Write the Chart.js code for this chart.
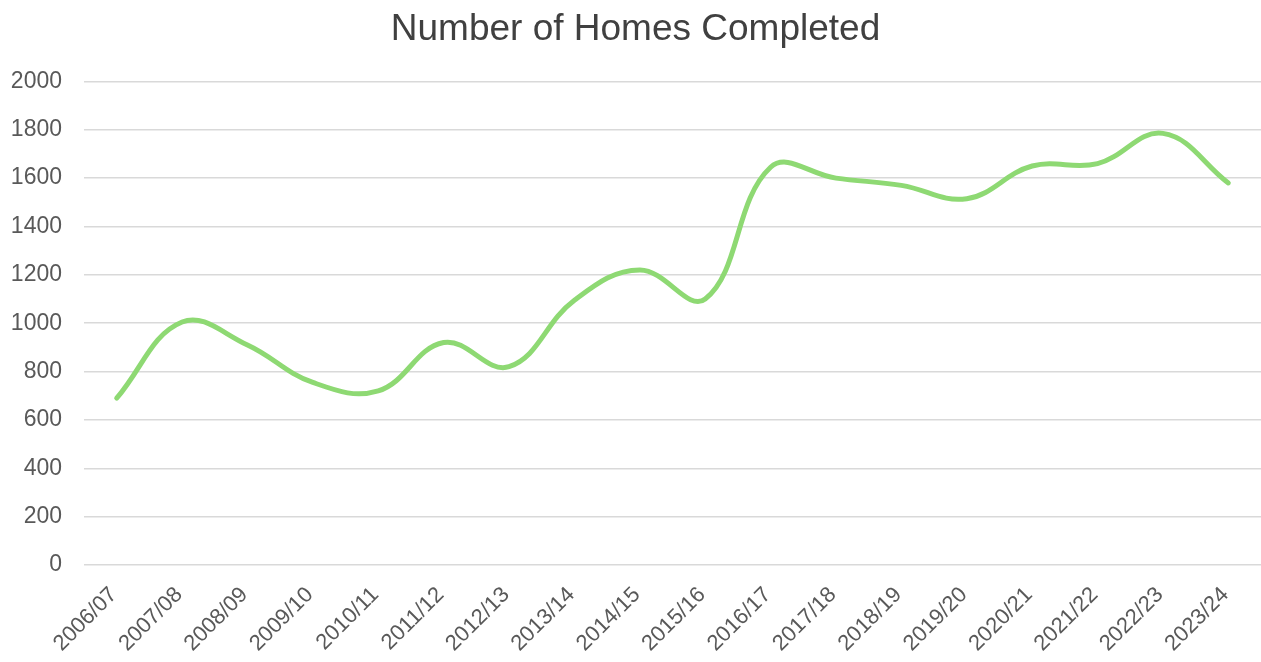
<!DOCTYPE html>
<html>
<head>
<meta charset="utf-8">
<script src="https://cdn.jsdelivr.net/npm/chart.js@4"></script>
<style>
    html, body { margin: 0; padding: 0; background: #fff; }
    #wrap { width: 1261px; height: 662px; }
</style>
</head>
<body>
<div id="wrap"><canvas id="lineChart"></canvas></div>
<script>
"use strict";

// Data läst från bilden
const years = ["2006/07", "2007/08", "2008/09", "2009/10", "2010/11", "2011/12", "2012/13", "2013/14", "2014/15",
    "2015/16", "2016/17", "2017/18", "2018/19", "2019/20", "2020/21", "2021/22", "2022/23", "2023/24"];
const homesCompleted = [690, 1005, 910, 755, 720, 920, 820, 1095, 1220, 1100, 1645, 1600, 1570, 1515, 1650, 1660, 1785, 1580];
const yTicks = [0, 200, 400, 600, 800, 1000, 1200, 1400, 1600, 1800, 2000];

const font = "Arial, 'Liberation Sans', sans-serif";

// Skapa linjediagram
function createLineChart() {
    const ctx = document.getElementById("lineChart");
    new Chart(ctx, {
        type: "line",
        data: {
            labels: years,
            datasets: [{
                label: "Number of Homes Completed",
                data: homesCompleted,
                borderColor: "#8ED973",
                borderWidth: 5,
                borderCapStyle: "round",
                borderJoinStyle: "round",
                pointRadius: 0,
                tension: 0.4,
                fill: false
            }]
        },
        options: {
            responsive: true,
            maintainAspectRatio: false,
            animation: false,
            layout: { padding: { top: 4, right: 0, left: 10, bottom: 0 } },
            plugins: {
                legend: { display: false },
                tooltip: { enabled: false },
                title: {
                    display: true,
                    text: "Number of Homes Completed",
                    color: "#404040",
                    font: { family: font, size: 37, weight: "normal" },
                    padding: { top: 4, bottom: 29 }
                }
            },
            scales: {
                x: {
                    offset: true,
                    grid: { display: false, drawTicks: false },
                    border: { display: false },
                    afterFit: scale => {
                        // etiketterna får sticka ut åt vänster, som i originalet
                        scale.paddingLeft = 0;
                        scale.paddingRight = 0;
                        scale.height = 97;
                    },
                    ticks: {
                        color: "#595959",
                        font: { family: font, size: 22 },
                        minRotation: 45,
                        maxRotation: 45,
                        autoSkip: false,
                        padding: 17,
                        labelOffset: -3
                    }
                },
                y: {
                    min: 0,
                    max: 2000,
                    afterBuildTicks: axis => {
                        axis.ticks = yTicks.map(v => ({ value: v }));
                    },
                    afterFit: scale => {
                        scale.width = 74;
                    },
                    grid: { color: "#d9d9d9", lineWidth: 1.5, drawTicks: false },
                    border: { display: false },
                    ticks: {
                        color: "#595959",
                        font: { family: font, size: 23 },
                        padding: 22,
                        callback: value => String(value)
                    }
                }
            }
        }
    });
}

createLineChart();
</script>
</body>
</html>
